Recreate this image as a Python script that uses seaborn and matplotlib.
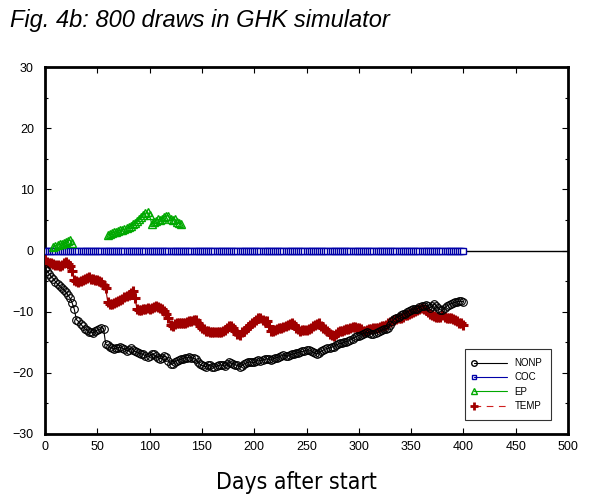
import numpy as np
import pandas as pd
import matplotlib
matplotlib.use("Agg")
import matplotlib.pyplot as plt
from matplotlib.lines import Line2D
from matplotlib.legend_handler import HandlerLine2D
import seaborn as sns

# ---------------- data ----------------
days = list(range(0, 401, 2))

nonp = [-3.0, -3.3, -3.8, -4.3, -4.6, -5.1, -5.5, -5.8, -6.2, -6.4,
        -6.8, -7.3, -7.8, -8.6, -9.6, -11.3, -11.6, -12.0, -12.4, -12.8,
        -13.0, -13.4, -13.3, -13.5, -13.2, -13.0, -12.9, -12.6, -12.8, -15.3,
        -15.5, -15.8, -15.9, -16.1, -16.0, -15.9, -15.8, -16.0, -16.1, -16.4,
        -16.3, -16.0, -16.2, -16.5, -16.6, -16.8, -16.9, -17.0, -17.2, -17.4,
        -17.3, -17.0, -17.0, -17.3, -17.5, -17.7, -17.6, -17.3, -17.4, -18.0,
        -18.5, -18.6, -18.2, -18.0, -17.9, -17.8, -17.7, -17.5, -17.6, -17.4,
        -17.5, -17.6, -17.8, -18.2, -18.6, -18.8, -18.9, -19.0, -18.8, -18.7,
        -19.0, -19.1, -18.9, -18.8, -18.7, -18.8, -18.9, -18.6, -18.3, -18.4,
        -18.5, -18.7, -18.8, -19.0, -18.9, -18.6, -18.4, -18.3, -18.2, -18.3,
        -18.3, -18.1, -17.9, -18.0, -17.9, -17.8, -17.7, -17.8, -17.9, -17.7,
        -17.6, -17.5, -17.4, -17.2, -17.1, -17.2, -17.3, -17.1, -17.0, -16.9,
        -16.8, -16.7, -16.6, -16.5, -16.4, -16.3, -16.2, -16.4, -16.6, -16.8,
        -16.9, -16.7, -16.5, -16.3, -16.1, -16.0, -15.9, -15.8, -15.7, -15.5,
        -15.3, -15.2, -15.2, -15.0, -14.9, -14.8, -14.6, -14.4, -14.2, -14.0,
        -13.9, -13.8, -13.6, -13.5, -13.4, -13.5, -13.6, -13.7, -13.5, -13.4,
        -13.2, -13.0, -12.9, -12.8, -12.6, -12.1, -11.6, -11.2, -11.0, -10.8,
        -10.6, -10.4, -10.3, -10.1, -9.9, -9.7, -9.6, -9.6, -9.5, -9.3,
        -9.1, -9.0, -8.9, -9.1, -9.4, -9.1, -8.8, -9.0, -9.4, -9.7,
        -9.8, -9.4, -9.1, -8.9, -8.7, -8.6, -8.5, -8.4, -8.3, -8.3,
        -8.4]

temp = [-1.6, -1.8, -2.0, -2.1, -2.2, -2.3, -2.4, -2.5, -2.3, -2.1,
        -1.9, -2.2, -2.6, -3.3, -4.9, -5.0, -5.1, -5.0, -4.8, -4.6,
        -4.5, -4.4, -4.6, -4.7, -4.9, -4.9, -5.0, -5.2, -5.6, -6.2,
        -8.4, -8.8, -8.8, -8.6, -8.4, -8.3, -8.1, -7.9, -7.6, -7.4,
        -7.2, -6.9, -6.6, -7.8, -9.6, -9.8, -9.7, -9.6, -9.5, -9.4,
        -9.6, -9.4, -9.2, -9.1, -9.3, -9.4, -9.6, -9.9, -10.4, -11.0,
        -12.2, -12.3, -12.0, -11.9, -11.8, -11.8, -11.9, -11.8, -11.7, -11.6,
        -11.5, -11.3, -11.4, -11.9, -12.4, -12.7, -12.9, -13.1, -13.2, -13.3,
        -13.3, -13.4, -13.4, -13.3, -13.3, -13.2, -13.0, -12.6, -12.3, -12.4,
        -12.7, -13.2, -13.7, -13.8, -13.4, -13.1, -12.8, -12.5, -12.2, -11.9,
        -11.7, -11.4, -11.1, -11.0, -11.3, -11.5, -11.6, -12.4, -13.1, -13.2,
        -13.0, -12.8, -12.7, -12.6, -12.5, -12.3, -12.2, -12.0, -11.8, -12.1,
        -12.6, -12.9, -13.1, -13.0, -13.0, -13.0, -12.9, -12.6, -12.4, -12.1,
        -12.0, -11.9, -12.3, -12.6, -12.9, -13.2, -13.6, -13.8, -13.9, -13.7,
        -13.4, -13.2, -13.1, -13.0, -12.9, -12.8, -12.6, -12.5, -12.5, -12.6,
        -12.7, -12.9, -13.1, -13.1, -13.0, -12.9, -12.8, -12.7, -12.6, -12.6,
        -12.5, -12.4, -12.3, -12.1, -11.9, -11.7, -11.5, -11.4, -11.2, -11.1,
        -11.0, -10.8, -10.6, -10.5, -10.3, -10.2, -10.1, -9.9, -9.7, -9.5,
        -9.4, -9.6, -9.8, -10.1, -10.3, -10.5, -10.7, -10.8, -10.9, -10.8,
        -10.6, -10.8, -11.0, -11.0, -11.1, -11.2, -11.4, -11.6, -11.8, -11.9,
        -12.1]

coc_days = list(range(0, 401, 2))
coc = [0.0] * len(coc_days)

ep1_days = [8, 10, 12, 14, 16, 18, 20, 22, 24, 26]
ep1 = [0.6, 0.8, 0.9, 1.0, 1.1, 1.2, 1.4, 1.6, 1.7, 1.2]

ep2_days = list(range(60, 131, 2))
ep2 = [2.6, 2.7, 2.9, 3.0, 3.1, 3.2, 3.3, 3.3, 3.5, 3.6,
       3.8, 4.0, 4.3, 4.5, 4.9, 5.2, 5.4, 5.8, 6.1, 6.3,
       5.8, 4.3, 4.6, 4.9, 5.1, 5.0, 5.2, 5.5, 5.6, 5.7,
       5.2, 5.0, 5.1, 4.7, 4.5, 4.4]

series_names = ["NONP", "COC", "EP", "TEMP"]
x_ticks = list(range(0, 501, 50))
y_ticks = list(range(-30, 31, 10))

# ---------------- style ----------------
sns.set_theme(style="ticks")
plt.rcParams["font.family"] = ["Liberation Sans", "DejaVu Sans"]
plt.rcParams["axes.unicode_minus"] = True
plt.rcParams["text.color"] = "black"
plt.rcParams["xtick.color"] = "black"
plt.rcParams["ytick.color"] = "black"

BLACK = "#000000"
BLUE = "#0000a8"
GREEN = "#00a800"
RED = "#a00000"

fig = plt.figure(figsize=(5.91, 5.01), dpi=100)
ax = fig.add_axes([45/591, 1-434/501, (568-45)/591, (434-67)/501])

ax.axhline(0, color="black", lw=1.0, zorder=1)

sns.lineplot(x=coc_days, y=coc, ax=ax, color=BLUE, lw=0.8, marker="s",
             markersize=4.6, markerfacecolor="white", markeredgecolor=BLUE,
             markeredgewidth=1.0, legend=False, sort=False, zorder=3)
for ed, ev in ((ep1_days, ep1), (ep2_days, ep2)):
    sns.lineplot(x=ed, y=ev, ax=ax, color=GREEN, lw=0.8, marker="^",
                 markersize=5.5, markerfacecolor="none", markeredgecolor=GREEN,
                 markeredgewidth=1.0, legend=False, sort=False, zorder=3)
sns.lineplot(x=days, y=temp, ax=ax, color=RED, lw=0.8, marker="+",
             markersize=7, markeredgecolor=RED, markeredgewidth=2.2,
             legend=False, sort=False, zorder=4)
sns.lineplot(x=days, y=nonp, ax=ax, color=BLACK, lw=0.8, marker="o",
             markersize=5.5, markerfacecolor="none", markeredgecolor=BLACK,
             markeredgewidth=0.8, legend=False, sort=False, zorder=5)

ax.set_xlim(0, 500)
ax.set_ylim(-30, 30)
ax.set_xticks(x_ticks)
ax.set_yticks(y_ticks)
ax.set_yticks(list(range(-25, 30, 10)), minor=True)
ax.set_xticklabels([str(t) for t in x_ticks])
ax.set_yticklabels([str(t).replace("-", "\u2212") for t in y_ticks])
ax.tick_params(axis="both", which="both", direction="in", top=True, right=True,
               labelsize=9, colors="black", width=0.8)
ax.tick_params(axis="both", which="major", length=4, pad=5)
ax.tick_params(axis="both", which="minor", length=2.5)
ax.tick_params(axis="y", which="major", pad=8)
for s in ax.spines.values():
    s.set_linewidth(2.0)
    s.set_color("black")
ax.set_xlabel("")
ax.set_ylabel("")
ax.grid(False)


class LeftMarkerHandler(HandlerLine2D):
    def create_artists(self, legend, orig_handle, xdescent, ydescent,
                       width, height, fontsize, trans):
        artists = super().create_artists(legend, orig_handle, xdescent, ydescent,
                                         width, height, fontsize, trans)
        for a in artists:
            if a.get_marker() not in (None, "None", "", " "):
                a.set_markevery([0])
        return artists


handles = [
    Line2D([0, 1], [0, 0], color=BLACK, lw=0.8, marker="o", markersize=4,
           markerfacecolor="none", markeredgecolor=BLACK),
    Line2D([0, 1], [0, 0], color=BLUE, lw=0.8, marker="s", markersize=3.5,
           markerfacecolor="none", markeredgecolor=BLUE),
    Line2D([0, 1], [0, 0], color=GREEN, lw=0.8, marker="^", markersize=4,
           markerfacecolor="none", markeredgecolor=GREEN),
    Line2D([0, 1], [0, 0], color="#d02020", lw=0.8, ls=(0, (6, 5)), marker="+",
           markersize=5.5, markeredgewidth=2.0, markeredgecolor=RED),
]
leg = ax.legend(handles, series_names, loc="lower right",
                fontsize=7, frameon=True, fancybox=False, numpoints=1,
                handlelength=3.4, handletextpad=0.8, borderpad=0.9,
                labelspacing=0.45, borderaxespad=0,
                handler_map={Line2D: LeftMarkerHandler()})
leg.get_frame().set_edgecolor("black")
leg.get_frame().set_linewidth(0.8)
leg.set_bbox_to_anchor((551/591, 1-420/501), transform=fig.transFigure)

fig.text(10/591, 1-20/501, "Fig. 4b: 800 draws in GHK simulator",
         fontsize=17, style="italic", va="center", ha="left", color="black",
         family=["Liberation Sans", "DejaVu Sans"])
fig.text(296/591, 1-482/501, "Days after start", fontsize=16.5,
         va="center", ha="center", color="black", fontstretch="condensed",
         family=["Liberation Sans Narrow", "DejaVu Sans"])

fig.savefig("out.png", dpi=100)
